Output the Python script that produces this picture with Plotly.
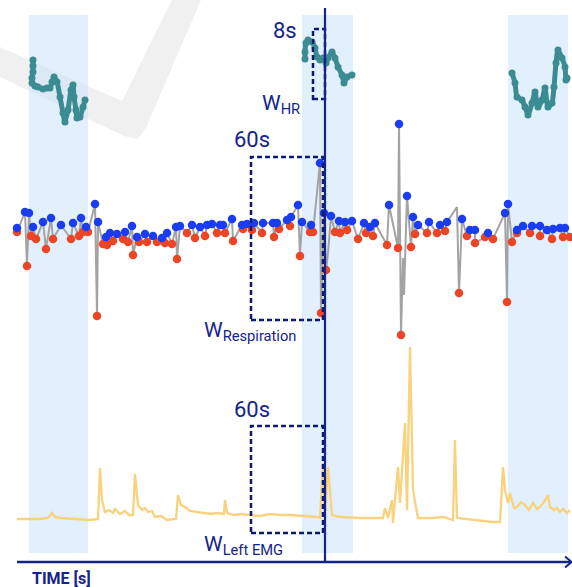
import plotly.graph_objects as go

# ---------------- data (time in s, signal values in arbitrary units) ----------------
hr1_t = [16, 16, 16, 15, 15, 18, 21, 26, 30, 33, 35, 37, 40, 43, 46, 48, 51, 54, 56, 57, 59, 60, 63, 66, 68]
hr1_v = [80, 74, 68, 62, 57, 54, 53, 51, 52, 52, 58, 63, 58, 43, 27, 18, 30, 50, 55, 43, 30, 22, 23, 33, 40]
hr2_t = [288, 288, 289, 291, 295, 298, 300, 303, 306, 309, 311, 315, 318, 321, 325, 327, 330, 335]
hr2_v = [81, 88, 97, 100, 98, 92, 83, 80, 82, 77, 82, 88, 82, 73, 65, 57, 63, 65]
hr3_t = [495, 498, 500, 505, 508, 511, 515, 518, 521, 525, 528, 531, 535, 537, 539, 541, 545, 548, 549, 550]
hr3_v = [67, 57, 43, 40, 33, 25, 37, 48, 33, 40, 52, 33, 37, 53, 77, 90, 82, 73, 60, 62]

peak_t = [0, 8, 12, 16, 26, 34, 44, 56, 64, 69, 78, 81, 89, 93, 100, 108, 115, 120, 128, 136, 145, 150, 159,
          163, 175, 183, 190, 195, 203, 206, 215, 225, 230, 237, 246, 256, 260, 270, 274, 281, 285, 294, 303,
          307, 314, 322, 328, 335, 347, 353, 358, 372, 382, 390, 396, 401, 412, 423, 430, 445, 453, 458, 471,
          488, 491, 500, 506, 515, 523, 530, 536, 543, 548]
peak_v = [0, 16, 15, 1, 6, 10, 3, 5, 10, 1, 24, 6, -9, -5, -6, -4, 2, -9, -6, -8, -10, -5, 1,
          2, 3, 1, 3, 4, 3, 3, 9, 3, 4, 5, 5, 5, 5, 8, 11, 23, 6, 3, 65,
          15, 12, 7, 6, 7, 5, 1, 5, 23, 104, 32, 11, 3, 6, 3, 6, 9, -2, -2, -5,
          15, 24, -2, 2, 2, 2, -2, -1, 0, 0]
trough_t = [0, 10, 14, 19, 29, 36, 54, 62, 66, 71, 80, 86, 90, 96, 106, 111, 116, 122, 130, 140, 148, 155,
            160, 170, 178, 188, 200, 208, 216, 226, 235, 245, 257, 262, 273, 283, 293, 296, 304, 309, 318,
            323, 330, 341, 349, 356, 370, 381, 384, 394, 398, 410, 420, 428, 442, 450, 458, 468, 476, 490,
            495, 500, 513, 523, 535, 546, 553]
trough_v = [-4, -38, -8, -11, -21, -11, -11, -8, -4, -4, -88, -16, -17, -13, -11, -14, -27, -14, -14, -14, -15, -16,
            -31, -5, -10, -8, -5, -5, -13, -1, -2, -5, -9, -1, 2, -28, -4, -4, -85, -42, -4,
            -5, -2, -11, -5, -8, -17, -20, -107, -19, -6, -5, -5, -3, -65, -8, -15, -9, -11, -74,
            -14, -5, -5, -8, -11, -9, -9]
extra_t = [311, 386, 387, 440]
extra_v = [-25, -30, -67, 21]

emg_t = [0, 23, 31, 35, 38, 43, 58, 73, 81, 83, 85, 88, 92, 96, 98, 103, 108, 112, 116, 118, 121, 125, 128,
         131, 135, 138, 144, 150, 159, 161, 164, 168, 173, 180, 186, 193, 200, 207, 208, 210, 217, 223, 233,
         243, 253, 263, 273, 288, 300, 303, 306, 308, 311, 315, 323, 343, 366, 368, 371, 375, 376, 381, 383,
         388, 390, 393, 396, 398, 401, 416, 426, 436, 438, 440, 456, 475, 483, 486, 488, 491, 493, 497, 500,
         504, 508, 512, 516, 520, 523, 527, 531, 533, 537, 540, 543, 546, 550, 553]
emg_v = [1, 1, 2, 7, 3, 2, 1, 0, 1, 52, 20, 8, 10, 7, 11, 6, 9, 5, 5, 46, 15, 10, 12,
         8, 9, 3, 4, 0, 1, 25, 15, 13, 9, 8, 7, 6, 7, 6, 20, 7, 5, 6, 5,
         4, 6, 5, 5, 4, 3, 2, 57, 5, 53, 5, 3, 2, 2, 12, 2, 20, -3, 53, 17,
         97, 10, 173, 30, 18, 2, 2, 3, 0, 80, 2, 0, -2, -2, 53, 30, 17, 27, 12, 13,
         18, 15, 10, 17, 11, 13, 18, 25, 13, 10, 12, 8, 11, 7, 10]

windows_t = [(12, 71), (285, 336), (491, 551)]
now_t = 308
hr_window = (296, 308, 41, 111)
resp_window = (234, 306, -92, 71)
emg_window = (234, 306, -13, 94)

# ---------------- figure ----------------
W, H = 572, 587
NAVY = "#15238c"
TEAL = "#3b8b93"


def px(x):
    return x / W


def py(y):
    return 1 - y / H


fig = go.Figure()

for t, v in [(hr1_t, hr1_v), (hr2_t, hr2_v), (hr3_t, hr3_v)]:
    fig.add_trace(go.Scatter(x=t, y=v, mode="lines+markers", yaxis="y",
                             line=dict(color=TEAL, width=5, shape="spline", smoothing=0.6),
                             marker=dict(color=TEAL, size=7), hoverinfo="skip"))

pts = sorted(list(zip(peak_t, peak_v)) + list(zip(trough_t, trough_v)) + list(zip(extra_t, extra_v)),
             key=lambda p: p[0])
fig.add_trace(go.Scatter(x=[p[0] for p in pts], y=[p[1] for p in pts], mode="lines", yaxis="y2",
                         line=dict(color="#a3a3a3", width=2), hoverinfo="skip"))
fig.add_trace(go.Scatter(x=trough_t, y=trough_v, mode="markers", yaxis="y2",
                         marker=dict(color="#ec4526", size=8.5), hoverinfo="skip"))
fig.add_trace(go.Scatter(x=peak_t, y=peak_v, mode="markers", yaxis="y2",
                         marker=dict(color="#1a3cf2", size=8.5), hoverinfo="skip"))

fig.add_trace(go.Scatter(x=emg_t, y=emg_v, mode="lines", yaxis="y3",
                         line=dict(color="#f8d27c", width=2.3), hoverinfo="skip"))

shapes = []
# faint watermark
wm = [(0, 47), (122, 101), (172, 0), (201, 0), (146, 128), (138, 139), (124, 136), (0, 77)]
path = "M " + " L ".join(f"{px(a):.4f},{py(b):.4f}" for a, b in wm) + " Z"
shapes.append(dict(type="path", path=path, xref="paper", yref="paper", fillcolor="#f0f0f0",
                   line=dict(width=0), layer="below"))
for a, b in windows_t:
    shapes.append(dict(type="rect", xref="x", yref="paper", x0=a, x1=b, y0=py(553), y1=py(15),
                       fillcolor="rgba(198,224,250,0.5)", line=dict(width=0), layer="below"))

dash = dict(color="#0e1a72", width=2.5, dash="5px,3px")
for (a, b, c, d), ax in [(hr_window, "y"), (resp_window, "y2"), (emg_window, "y3")]:
    shapes.append(dict(type="rect", xref="x", yref=ax, x0=a, x1=b, y0=c, y1=d, line=dash,
                       fillcolor="rgba(0,0,0,0)"))

shapes.append(dict(type="line", xref="x", yref="paper", x0=now_t, x1=now_t, y0=py(562), y1=py(8),
                   line=dict(color=NAVY, width=2.2)))
shapes.append(dict(type="line", xref="paper", yref="paper", x0=px(17), x1=px(571), y0=py(562), y1=py(562),
                   line=dict(color=NAVY, width=2.5)))
shapes.append(dict(type="path", xref="paper", yref="paper",
                   path=f"M {px(565)},{py(556.5)} L {px(571.5)},{py(562)} L {px(565)},{py(567.5)}",
                   line=dict(color=NAVY, width=2)))

anns = []


def label(text, x, y, size=20, bold=False):
    anns.append(dict(text=(f"<b>{text}</b>" if bold else text), x=px(x), y=py(y), xref="paper", yref="paper",
                     showarrow=False, xanchor="center", yanchor="middle",
                     font=dict(family="Roboto", size=size, color=NAVY)))


label("8s", 285, 30, 22)
label("W<sub>HR</sub>", 281, 104, 21)
label("60s", 252, 140, 22)
label("W<sub>Respiration</sub>", 250, 331, 21)
label("60s", 252, 409, 22)
label("W<sub>Left EMG</sub>", 243, 545, 21)
label("TIME [s]", 62, 578, 16, bold=True)

fig.update_layout(
    width=W, height=H, margin=dict(l=0, r=0, t=0, b=0),
    paper_bgcolor="white", plot_bgcolor="white", showlegend=False,
    xaxis=dict(range=[-17, 555], visible=False, fixedrange=True),
    yaxis=dict(range=[-447, 140], visible=False, fixedrange=True),
    yaxis2=dict(range=[-359, 228], visible=False, fixedrange=True, overlaying="y"),
    yaxis3=dict(range=[-67, 520], visible=False, fixedrange=True, overlaying="y"),
    shapes=shapes, annotations=anns,
)

fig.write_html("out.html", config={"displayModeBar": False},
               post_script="document.body.style.margin='0';document.body.style.overflow='hidden';")
